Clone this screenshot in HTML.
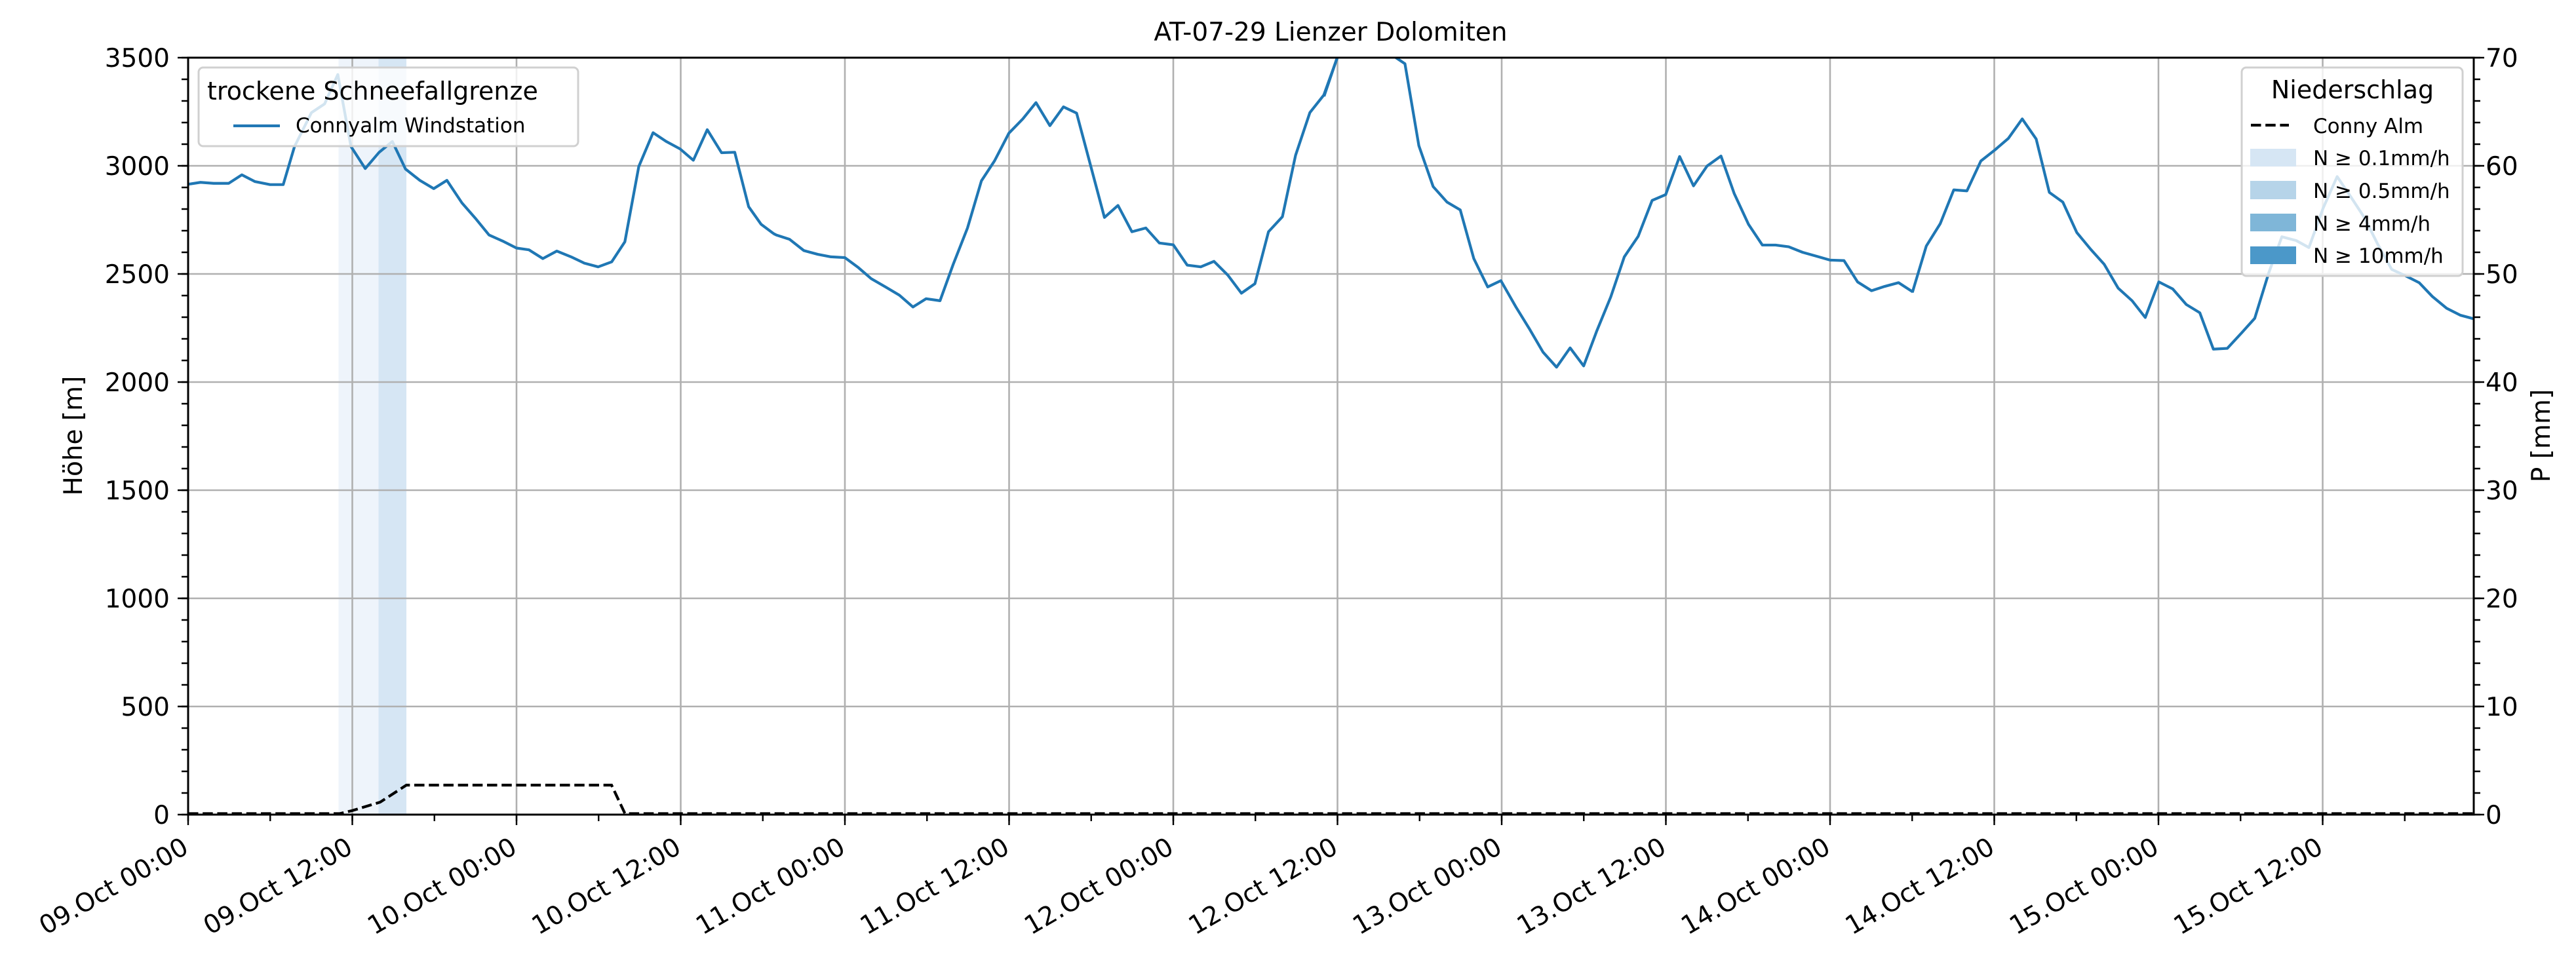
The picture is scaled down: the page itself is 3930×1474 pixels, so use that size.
<!DOCTYPE html>
<html><head><meta charset="utf-8"><style>
html,body{margin:0;padding:0;background:#fff;}
svg{display:block;font-family:"DejaVu Sans","Liberation Sans",sans-serif;}
</style></head><body>
<svg width="3930" height="1474" viewBox="0 0 3930 1474" xmlns="http://www.w3.org/2000/svg">
<defs><clipPath id="pc"><rect x="287" y="88" width="3487" height="1155"/></clipPath></defs>
<rect width="3930" height="1474" fill="#fff"/>
<!-- precipitation shading -->
<rect x="516.5" y="88" width="61" height="1155" fill="#eef4fb"/>
<rect x="577.5" y="88" width="42.5" height="1155" fill="#d6e6f4"/>
<!-- grid -->
<g stroke="#b0b0b0" stroke-width="2.6">
<line x1="537.5" y1="88" x2="537.5" y2="1243"/><line x1="788" y1="88" x2="788" y2="1243"/>
<line x1="1038.5" y1="88" x2="1038.5" y2="1243"/><line x1="1289" y1="88" x2="1289" y2="1243"/>
<line x1="1539.5" y1="88" x2="1539.5" y2="1243"/><line x1="1790" y1="88" x2="1790" y2="1243"/>
<line x1="2040.5" y1="88" x2="2040.5" y2="1243"/><line x1="2291" y1="88" x2="2291" y2="1243"/>
<line x1="2541.5" y1="88" x2="2541.5" y2="1243"/><line x1="2792" y1="88" x2="2792" y2="1243"/>
<line x1="3042.5" y1="88" x2="3042.5" y2="1243"/><line x1="3293" y1="88" x2="3293" y2="1243"/>
<line x1="3543.5" y1="88" x2="3543.5" y2="1243"/>
<line x1="287" y1="1078" x2="3774" y2="1078"/><line x1="287" y1="913" x2="3774" y2="913"/>
<line x1="287" y1="748" x2="3774" y2="748"/><line x1="287" y1="583" x2="3774" y2="583"/>
<line x1="287" y1="418" x2="3774" y2="418"/><line x1="287" y1="253" x2="3774" y2="253"/>
</g>
<!-- blue line -->
<g clip-path="url(#pc)" fill="none" stroke="#1f77b4" stroke-width="4.2" stroke-linejoin="round">
<g transform="translate(280,80) scale(0.574,0.3827)">
<polyline vector-effect="non-scaling-stroke" points="0,525 15,525 45,518 80,522 120,522 155,488 190,515 230,527 265,527 295,375 340,240 375,205 410,88 445,375 483,463 520,398 555,355 590,465 628,510 665,543 700,510 740,600 775,660 812,728 848,752 885,780 918,787 955,822 992,792 1030,815 1065,840 1102,855 1138,835 1173,755 1210,455 1248,320 1283,355 1320,385 1355,430 1392,308 1430,400 1465,398 1502,615 1535,685 1568,722"/>
</g>
<g transform="translate(1150,80) scale(0.574,0.3827)">
<polyline vector-effect="non-scaling-stroke" points="52,722 60,728 95,745 133,790 170,805 205,815 242,818 278,858 312,902 350,935 387,968 423,1015 458,982 495,990 530,845 568,700 605,512 640,432 678,322 715,265 750,200 787,292 823,217 858,242 895,450 932,658 968,610 1005,715 1042,700 1078,760 1115,767 1152,848 1188,855 1223,833 1260,888 1296,960 1332,922 1368,715 1405,655 1440,410 1478,240 1515,170 1550,25 1590,-100"/>
</g>
<g transform="translate(2020,80) scale(0.574,0.3827)">
<polyline vector-effect="non-scaling-stroke" points="0,175 35,20 70,-60 110,-80 150,-30 190,20 215,45 252,372 290,535 327,597 362,628 398,822 435,935 470,910 510,1015 545,1100 582,1195 618,1255 654,1178 690,1250 725,1110 762,975 798,815 835,733 872,590 908,567 945,415 982,532 1018,453 1055,413 1090,562 1128,685 1165,768 1200,768 1235,775 1272,797 1310,813 1345,828 1382,830 1418,915 1455,950 1490,933 1527,918 1565,955"/>
</g>
<g transform="translate(2890,80) scale(0.574,0.3827)">
<polyline vector-effect="non-scaling-stroke" points="48,957 85,772 122,683 158,548 193,552 230,433 268,388 303,343 340,265 377,345 412,558 448,597 485,718 522,785 558,845 595,940 632,990 667,1057 703,915 740,943 776,1005 812,1038 848,1183 885,1180 922,1120 958,1060 995,880 1030,735 1068,750 1102,778 1140,620 1177,495 1213,575 1250,660 1285,765 1322,865 1358,890 1395,918 1430,973 1468,1020 1505,1048 1540,1062 1560,1066"/>
</g>
</g>
<!-- precip dashed line -->
<polyline clip-path="url(#pc)" fill="none" stroke="#000" stroke-width="4.2" stroke-dasharray="15.5 6.7" points="287,1241.5 518,1241.5 537,1237 580,1224 620,1198 933,1198 953.5,1241.5 3774,1241.5"/>
<!-- spines -->
<rect x="287" y="88" width="3487" height="1155" fill="none" stroke="#000" stroke-width="3"/>
<!-- ticks -->
<g stroke="#000">
<line x1="279" y1="1244.2" x2="279" y2="86" stroke-width="16" stroke-dasharray="2.4 162.6"/>
<line x1="282" y1="1244.2" x2="282" y2="86" stroke-width="10" stroke-dasharray="2.4 30.6"/>
<line x1="3782" y1="1244.2" x2="3782" y2="86" stroke-width="16" stroke-dasharray="2.4 162.6"/>
<line x1="3779" y1="1244.2" x2="3779" y2="86" stroke-width="10" stroke-dasharray="2.4 30.6"/>
<line x1="285.8" y1="1251" x2="3776" y2="1251" stroke-width="16" stroke-dasharray="2.4 248.1"/>
<line x1="285.8" y1="1248" x2="3776" y2="1248" stroke-width="10" stroke-dasharray="2.4 122.85"/>
</g>
<!-- left tick labels -->
<g font-size="39" text-anchor="end" fill="#000">
<text x="259" y="1257">0</text><text x="259" y="1092">500</text><text x="259" y="927">1000</text>
<text x="259" y="762">1500</text><text x="259" y="597">2000</text><text x="259" y="432">2500</text>
<text x="259" y="267">3000</text><text x="259" y="102">3500</text>
</g>
<g font-size="39" text-anchor="start" fill="#000">
<text x="3792" y="1257">0</text><text x="3792" y="1092">10</text><text x="3792" y="927">20</text>
<text x="3792" y="762">30</text><text x="3792" y="597">40</text><text x="3792" y="432">50</text>
<text x="3792" y="267">60</text><text x="3792" y="102">70</text>
</g>
<!-- x tick labels -->
<g font-size="39" text-anchor="end" fill="#000">
<text transform="translate(290,1300) rotate(-30)">09.Oct 00:00</text>
<text transform="translate(540.5,1300) rotate(-30)">09.Oct 12:00</text>
<text transform="translate(791,1300) rotate(-30)">10.Oct 00:00</text>
<text transform="translate(1041.5,1300) rotate(-30)">10.Oct 12:00</text>
<text transform="translate(1292,1300) rotate(-30)">11.Oct 00:00</text>
<text transform="translate(1542.5,1300) rotate(-30)">11.Oct 12:00</text>
<text transform="translate(1793,1300) rotate(-30)">12.Oct 00:00</text>
<text transform="translate(2043.5,1300) rotate(-30)">12.Oct 12:00</text>
<text transform="translate(2294,1300) rotate(-30)">13.Oct 00:00</text>
<text transform="translate(2544.5,1300) rotate(-30)">13.Oct 12:00</text>
<text transform="translate(2795,1300) rotate(-30)">14.Oct 00:00</text>
<text transform="translate(3045.5,1300) rotate(-30)">14.Oct 12:00</text>
<text transform="translate(3296,1300) rotate(-30)">15.Oct 00:00</text>
<text transform="translate(3546.5,1300) rotate(-30)">15.Oct 12:00</text>
</g>
<!-- axis labels and title -->
<text transform="translate(125,665) rotate(-90)" font-size="39" text-anchor="middle">Höhe [m]</text>
<text transform="translate(3890,665) rotate(-90)" font-size="39" text-anchor="middle">P [mm]</text>
<text x="2030" y="62" font-size="39" text-anchor="middle">AT-07-29 Lienzer Dolomiten</text>
<!-- legend 1 -->
<rect x="303" y="103" width="579" height="120" rx="7" fill="#fff" fill-opacity="0.8" stroke="#d0d0d0" stroke-width="3"/>
<text x="316" y="152" font-size="38">trockene Schneefallgrenze</text>
<line x1="356" y1="192" x2="427" y2="192" stroke="#1f77b4" stroke-width="4.2"/>
<text x="451" y="202" font-size="31">Connyalm Windstation</text>
<!-- legend 2 -->
<rect x="3420" y="103" width="337" height="318" rx="7" fill="#fff" fill-opacity="0.8" stroke="#d0d0d0" stroke-width="3"/>
<text x="3589" y="150" font-size="38" text-anchor="middle">Niederschlag</text>
<line x1="3434" y1="191" x2="3492" y2="191" stroke="#000" stroke-width="4.2" stroke-dasharray="15.5 6.7"/>
<text x="3529" y="203" font-size="31">Conny Alm</text>
<rect x="3433" y="227" width="70" height="27" fill="#d6e6f4"/>
<rect x="3433" y="276" width="70" height="28" fill="#b6d4e9"/>
<rect x="3433" y="326" width="70" height="27" fill="#7fb6d8"/>
<rect x="3433" y="376" width="70" height="27" fill="#4b98c9"/>
<text x="3529" y="252" font-size="31">N ≥ 0.1mm/h</text>
<text x="3529" y="302" font-size="31">N ≥ 0.5mm/h</text>
<text x="3529" y="352" font-size="31">N ≥ 4mm/h</text>
<text x="3529" y="401" font-size="31">N ≥ 10mm/h</text>
</svg>
</body></html>
